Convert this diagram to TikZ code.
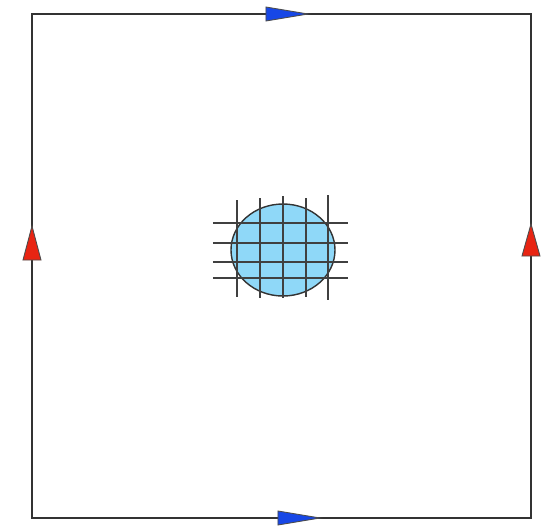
\documentclass[tikz,border=0pt]{standalone}
\usepackage{tikz}
\usetikzlibrary{shapes.geometric,calc}
\definecolor{FB}{HTML}{1747E6}
\definecolor{FR}{HTML}{E82412}
\definecolor{CB}{HTML}{8FD8F8}
\begin{document}
\begin{tikzpicture}[x=0.02cm,y=-0.02cm,
    edge/.style={draw=black!80, line width=0.9pt},
    flagb/.style={fill=FB, draw=black!70, line width=0.5pt},
    flagr/.style={fill=FR, draw=black!70, line width=0.5pt},
    gridln/.style={draw=black!75, line width=1.1pt}]
  \useasboundingbox (0,0) rectangle (549,529);
  % boundary of the square
  \coordinate (nw) at (32,14);
  \coordinate (ne) at (531,14);
  \coordinate (se) at (531,518);
  \coordinate (sw) at (32,518);
  \draw[edge] (nw) -- (ne) -- (se) -- (sw) -- cycle;
  % orientation marks
  \filldraw[flagb] (266,7) -- (308,14) -- (266,21) -- cycle;
  \filldraw[flagb] (278,511) -- (320,518) -- (278,525) -- cycle;
  \filldraw[flagr] (23,260) -- (32,226) -- (41,260) -- cycle;
  \filldraw[flagr] (522,256) -- (531,224) -- (540,256) -- cycle;
  % the disc
  \node[ellipse, draw=black!80, fill=CB, line width=0.8pt,
        minimum width=104*0.02cm, minimum height=92*0.02cm,
        inner sep=0pt] (disc) at (283,250) {};
  % mesh over the disc
  \foreach \gx/\ya/\yb in {237/200/297, 260/198/298, 283/196/298, 306/198/297, 328/195/300}
    \draw[gridln] (\gx,\ya) -- (\gx,\yb);
  \foreach \gy in {223,243,262,278}
    \draw[gridln] (213,\gy) -- (348,\gy);
\end{tikzpicture}
\end{document}
